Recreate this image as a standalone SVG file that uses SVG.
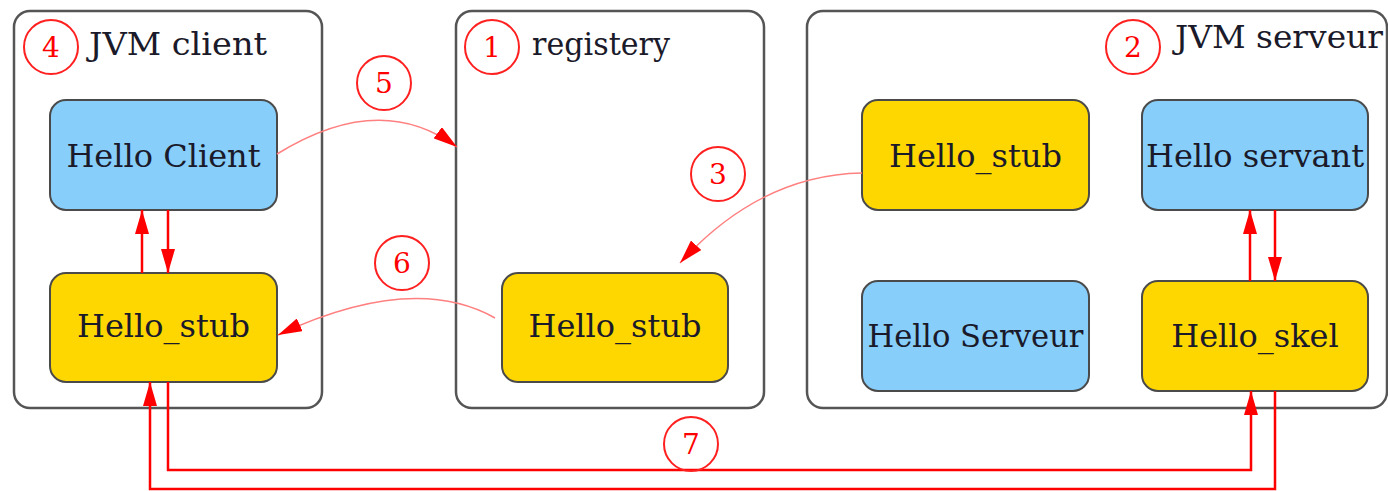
<svg xmlns="http://www.w3.org/2000/svg" width="1388" height="491" viewBox="0 0 1388 491">
  <style>
    .container { fill: #ffffff; stroke: #555555; stroke-width: 2.5; }
    .box { stroke: #4a4a4a; stroke-width: 2; }
    .blue { fill: #87cefa; }
    .gold { fill: #ffd700; }
    .label { font-size: 32px; fill: #1a1a2a; }
    .title { font-size: 31px; fill: #1a1a2a; }
    .step circle { fill: none; stroke: #ff2020; stroke-width: 2; }
    .step text { font-size: 28px; fill: #ff0000; text-anchor: middle; }
    .flow { fill: none; stroke: #ff0000; stroke-width: 2.5; marker-end: url(#head); }
    .call { fill: none; stroke: #ff8080; stroke-width: 1.5; marker-end: url(#head); }
  </style>
  <defs>
    <marker id="head" markerUnits="userSpaceOnUse" markerWidth="24" markerHeight="14" refX="24" refY="7" orient="auto">
      <path d="M0,0 L24,7 L0,14 z" fill="#ff0000"/>
    </marker>
  </defs>

  <g font-family="DejaVu Serif, serif">
  <!-- JVM / registry containers -->
  <g id="jvm-client">
    <rect class="container" x="14" y="11" width="308" height="397" rx="16"/>
    <text class="title" x="89" y="55" textLength="178" lengthAdjust="spacingAndGlyphs">JVM client</text>
  </g>
  <g id="registery">
    <rect class="container" x="456" y="11" width="308" height="397" rx="16"/>
    <text class="title" x="532" y="55" textLength="138" lengthAdjust="spacingAndGlyphs">registery</text>
  </g>
  <g id="jvm-serveur">
    <rect class="container" x="807" y="11" width="580" height="397" rx="16"/>
    <text class="title" x="1175" y="48" textLength="208" lengthAdjust="spacingAndGlyphs">JVM serveur</text>
  </g>

  <!-- objects -->
  <g id="hello-client">
    <rect class="box blue" x="50" y="100" width="227" height="110" rx="16"/>
    <text class="label" x="163.5" y="167" text-anchor="middle">Hello Client</text>
  </g>
  <g id="client-stub">
    <rect class="box gold" x="50" y="273" width="227" height="109" rx="16"/>
    <text class="label" x="163.5" y="337" text-anchor="middle">Hello_stub</text>
  </g>
  <g id="registry-stub">
    <rect class="box gold" x="502" y="273" width="226" height="109" rx="16"/>
    <text class="label" x="615" y="337" text-anchor="middle">Hello_stub</text>
  </g>
  <g id="server-stub">
    <rect class="box gold" x="862" y="100" width="227" height="110" rx="16"/>
    <text class="label" x="975.5" y="167" text-anchor="middle">Hello_stub</text>
  </g>
  <g id="hello-servant">
    <rect class="box blue" x="1142" y="100" width="226" height="110" rx="16"/>
    <text class="label" x="1255" y="167" text-anchor="middle">Hello servant</text>
  </g>
  <g id="hello-serveur">
    <rect class="box blue" x="862" y="281" width="227" height="110" rx="16"/>
    <text class="label" x="975.5" y="347" text-anchor="middle" textLength="216" lengthAdjust="spacingAndGlyphs">Hello Serveur</text>
  </g>
  <g id="hello-skel">
    <rect class="box gold" x="1142" y="281" width="226" height="110" rx="16"/>
    <text class="label" x="1255" y="347" text-anchor="middle">Hello_skel</text>
  </g>

  <!-- connectors -->
  <g id="connectors">
    <path class="call" d="M277,154 Q380,90 457,147"/>
    <path class="call" d="M862,173 Q760,175 680,263"/>
    <path class="call" d="M495,318 Q413,272 278,335"/>
    <path class="flow" d="M142,273 V210"/>
    <path class="flow" d="M168,210 V273"/>
    <path class="flow" d="M1250,281 V210"/>
    <path class="flow" d="M1275,210 V281"/>
    <path class="flow" d="M168,382 V470 H1251 V391"/>
    <path class="flow" d="M1275,391 V489 H150 V382"/>
  </g>

  <!-- step numbers -->
  <g id="steps" class="step">
    <circle cx="51" cy="47" r="27"/><text x="51" y="57">4</text>
    <circle cx="384" cy="83" r="27"/><text x="384" y="93">5</text>
    <circle cx="492" cy="47" r="27"/><text x="492" y="57">1</text>
    <circle cx="1133" cy="47" r="27"/><text x="1133" y="57">2</text>
    <circle cx="718" cy="174" r="27"/><text x="718" y="184">3</text>
    <circle cx="402" cy="263" r="27"/><text x="402" y="273">6</text>
    <circle cx="691" cy="444" r="27"/><text x="691" y="454">7</text>
  </g>
  </g>
</svg>
